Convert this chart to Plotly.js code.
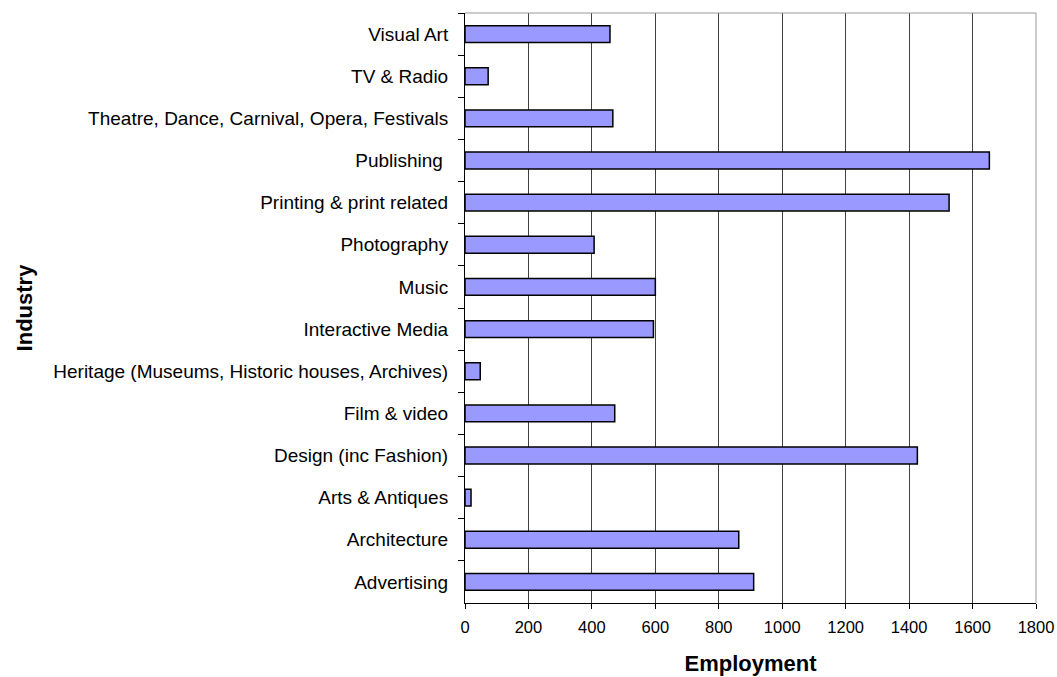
<!DOCTYPE html>
<html>
<head>
<meta charset="utf-8">
<script src="https://cdn.plot.ly/plotly-3.0.1.min.js"></script>
<style>html,body{margin:0;padding:0;background:#fff;}#chart{width:1057px;height:677px;}</style>
</head>
<body>
<div id="chart"></div>
<script>
const industries = [
  "Visual Art",
  "TV & Radio",
  "Theatre, Dance, Carnival, Opera, Festivals",
  "Publishing\u00a0",
  "Printing & print related",
  "Photography",
  "Music",
  "Interactive Media",
  "Heritage (Museums, Historic houses, Archives)",
  "Film & video",
  "Design (inc Fashion)",
  "Arts & Antiques",
  "Architecture",
  "Advertising"
];
const employment = [457, 73, 466, 1653, 1526, 407, 600, 594, 48, 472, 1426, 19, 863, 910];
const xTicks = [0, 200, 400, 600, 800, 1000, 1200, 1400, 1600, 1800];

const FONT = 'Liberation Sans, Arial, sans-serif';

const trace = {
  type: 'bar',
  orientation: 'h',
  y: industries,
  x: employment,
  marker: {color: '#9999FF', line: {color: '#000000', width: 1.5}},
  hoverinfo: 'x+y'
};

const layout = {
  width: 1057, height: 677,
  margin: {l: 465, r: 21, t: 13, b: 74},
  paper_bgcolor: '#ffffff', plot_bgcolor: '#ffffff',
  font: {family: FONT, size: 16, color: '#000'},
  bargap: 0.6,
  showlegend: false,
  xaxis: {
    range: [0, 1800], tickvals: xTicks, ticktext: xTicks.map(String),
    tickfont: {family: FONT, size: 16.5, color: '#000'},
    showgrid: true, gridcolor: '#404040', gridwidth: 1,
    showline: true, linecolor: '#000', linewidth: 1,
    ticks: 'outside', ticklen: 5, tickcolor: '#000',
    ticklabelstandoff: 4,
    zeroline: false, mirror: false,
    title: {text: 'Employment', font: {size: 22, color: '#000', family: FONT, weight: 'bold'}, standoff: 20}
  },
  yaxis: {
    type: 'category', autorange: 'reversed',
    tickfont: {family: FONT, size: 19, color: '#000'},
    showline: true, linecolor: '#000', linewidth: 1,
    ticks: 'outside', ticklen: 6, tickcolor: '#000', tickson: 'boundaries',
    ticklabelstandoff: 12,
    showgrid: false, zeroline: false,
    title: {text: 'Industry', font: {size: 22, color: '#000', family: FONT, weight: 'bold'}, standoff: 14}
  },
  shapes: [
    {type: 'line', xref: 'paper', yref: 'paper', x0: 0, x1: 1, y0: 1, y1: 1, line: {color: '#999', width: 1}},
    {type: 'line', xref: 'paper', yref: 'paper', x0: 1, x1: 1, y0: 0, y1: 1, line: {color: '#999', width: 1}}
  ]
};

Plotly.newPlot('chart', [trace], layout, {displayModeBar: false, staticPlot: true});
</script>
</body>
</html>
